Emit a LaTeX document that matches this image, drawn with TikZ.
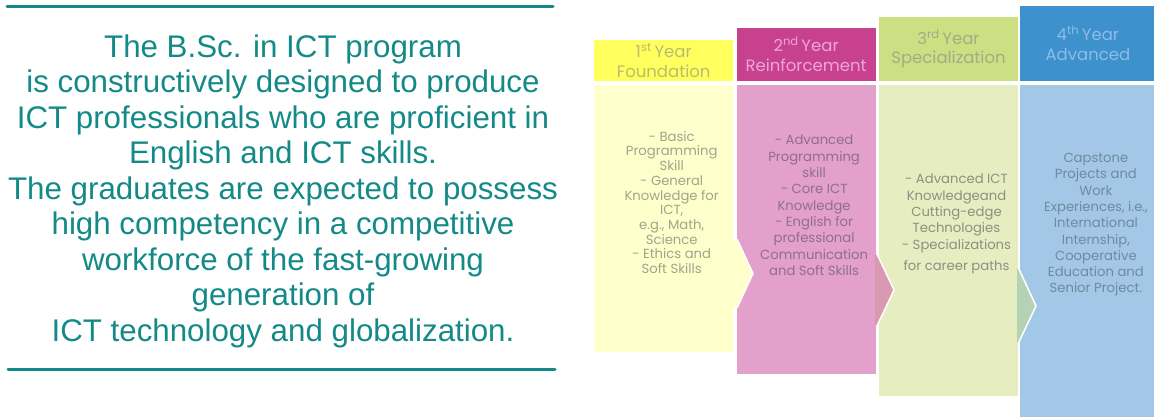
\documentclass[tikz,border=0pt]{standalone}
\usepackage{fontspec}
\setmainfont{Poppins}
\newfontfamily\introfont{Liberation Sans}
\usepackage{xcolor}
\definecolor{teal1}{HTML}{138A87}
\definecolor{head1}{HTML}{FFFF5E}
\definecolor{body1}{HTML}{FFFFCC}
\definecolor{text1}{HTML}{BBBB70}
\definecolor{note1}{HTML}{A3A38C}
\definecolor{head2}{HTML}{C8418F}
\definecolor{body2}{HTML}{E2A0CB}
\definecolor{text2}{HTML}{EBA6D6}
\definecolor{note2}{HTML}{8F7085}
\definecolor{tip2}{HTML}{D899B1}
\definecolor{head3}{HTML}{CEDE83}
\definecolor{body3}{HTML}{E6EDC0}
\definecolor{text3}{HTML}{9FAE88}
\definecolor{note3}{HTML}{8C9080}
\definecolor{tip3}{HTML}{B4D3B5}
\definecolor{head4}{HTML}{3D91CD}
\definecolor{body4}{HTML}{A3C8E7}
\definecolor{text4}{HTML}{8DBDE6}
\definecolor{note4}{HTML}{6F8A9F}
\usepackage{tikz}
\usetikzlibrary{positioning}

\begin{document}
\begin{tikzpicture}[x=1pt,y=1pt,
    yearhead/.style={rectangle,inner sep=0pt,minimum width=139pt,align=center,font=\fontsize{16.5}{19.5}\selectfont},
    yearbody/.style={rectangle,inner sep=0pt,minimum width=139pt},
    yearnote/.style={align=center,inner sep=0pt,xshift=8pt,font=\fontsize{13.2}{16.3}\selectfont},
    rule/.style={draw=teal1,line width=3pt,line cap=round},
    chevron/.style={draw=white,line width=1.5pt,line join=miter}]
    \useasboundingbox (0,0) rectangle (1154,417);
    % Intro text between two rules
    \draw[rule] (7,410) -- (553,410);
    \node[align=center,inner sep=0pt,text=teal1,font=\introfont\fontsize{31.3}{35.5}\selectfont] (intro) at (283,226)
        {The B.Sc. in ICT program\\is constructively designed to produce\\ICT professionals who are proficient in\\English and ICT skills.\\The graduates are expected to possess\\high competency in a competitive\\workforce of the fast-growing\\generation of\\ICT technology and globalization.};
    \draw[rule] (8,47) -- (555,47);
    % Year headers, bottom aligned
    \node[yearhead,anchor=south west,fill=head1,text=text1,minimum height=41pt] (h1) at (594,336) {1\textsuperscript{st}\,Year\\Foundation};
    \node[yearhead,right=3pt of h1.south east,anchor=south west,fill=head2,text=text2,minimum height=53pt] (h2) {2\textsuperscript{nd}\,Year\\Reinforcement};
    \node[yearhead,right=3pt of h2.south east,anchor=south west,fill=head3,text=text3,minimum height=64pt] (h3) {3\textsuperscript{rd}\,Year\\Specialization};
    \node[yearhead,right=2pt of h3.south east,anchor=south west,fill=head4,text=text4,minimum height=75pt,minimum width=135pt] (h4) {4\textsuperscript{th}\,Year\\Advanced};
    % Year bodies, top aligned
    \node[yearbody,anchor=north west,fill=body1,minimum height=267pt] (b1) at (594,332) {};
    \node[yearbody,right=3pt of b1.north east,anchor=north west,fill=body2,minimum height=289pt] (b2) {};
    \node[yearbody,right=3pt of b2.north east,anchor=north west,fill=body3,minimum height=311pt] (b3) {};
    \node[yearbody,right=2pt of b3.north east,anchor=north west,fill=body4,minimum height=332pt,minimum width=135pt] (b4) {};
    % Chevrons pointing into the next year
    \fill[body1] (732,177) -- (737,177) -- (753,143.5) -- (737,110) -- (732,110) -- cycle;
    \draw[chevron] (737,178) -- (753,143.5) -- (737,109);
    \fill[tip2] (875,162) -- (877,162) -- (894,127) -- (877,92) -- (875,92) -- cycle;
    \draw[chevron] (877,163) -- (894,127) -- (877,91);
    \fill[tip3] (1017,149) -- (1018,149) -- (1036,111) -- (1018,74) -- (1017,74) -- cycle;
    \draw[chevron] (1018,150) -- (1036,111) -- (1018,73);
    % Body texts
    \node[yearnote,text=note1,below=46pt of b1.north,font=\fontsize{13.2}{14.7}\selectfont] (t1) {- Basic\\Programming\\Skill\\- General\\Knowledge for\\ICT,\\e.g., Math,\\Science\\- Ethics and\\Soft Skills};
    \node[yearnote,text=note2,below=50pt of b2.north] (t2) {- Advanced\\Programming\\skill\\- Core ICT\\Knowledge\\- English for\\professional\\Communication\\and Soft Skills};
    \node[yearnote,text=note3,below=89pt of b3.north] (t3) {- Advanced ICT\\Knowledgeand\\Cutting-edge\\Technologies\\- Specializations\\[5pt]for career paths};
    \node[yearnote,text=note4,below=68pt of b4.north] (t4) {Capstone\\Projects and\\Work\\Experiences, i.e.,\\International\\Internship,\\Cooperative\\Education and\\Senior Project.};
\end{tikzpicture}
\end{document}
